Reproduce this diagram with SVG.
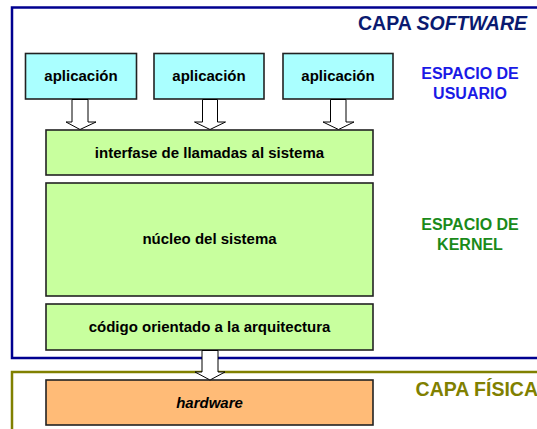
<svg xmlns="http://www.w3.org/2000/svg" width="537" height="429" viewBox="0 0 537 429">
<style>
text{font-family:"Liberation Sans",Arial,sans-serif;font-weight:bold;text-anchor:middle}
.t{font-size:15px;fill:#000}
.app{fill:#AAFFFF;stroke:#222;stroke-width:1.6}
.k{fill:#C8FF9E;stroke:#222;stroke-width:1.6}
.hw{fill:#FFBB77;stroke:#222;stroke-width:1.6}
.arr{fill:#fff;stroke:#000;stroke-width:1}
.lab{font-size:16px}
.cap{font-size:19.5px;text-anchor:end}
</style>
<g id="frames">
<rect x="12" y="7.5" width="540" height="350.5" fill="#fff" stroke="#000090" stroke-width="2.5"/>
<rect x="12" y="372" width="540" height="70" fill="#fff" stroke="#808000" stroke-width="2.5"/>
</g>
<g id="labels">
<text class="cap" x="527" y="30" fill="#0A1A70">CAPA <tspan font-style="italic">SOFTWARE</tspan></text>
<text class="lab" x="470" y="79" fill="#1A1AE6">ESPACIO DE</text>
<text class="lab" x="470" y="99" fill="#1A1AE6">USUARIO</text>
<text class="lab" x="470" y="230" fill="#1A8A1A">ESPACIO DE</text>
<text class="lab" x="470" y="250" fill="#1A8A1A">KERNEL</text>
<text class="cap" x="538" y="396" fill="#808000">CAPA FÍSICA</text>
</g>
<g id="app1"><rect class="app" x="25.5" y="53.5" width="111" height="45.5"/><text class="t" x="81" y="81">aplicación</text></g>
<g id="app2"><rect class="app" x="154" y="53.5" width="110" height="45.5"/><text class="t" x="209" y="81">aplicación</text></g>
<g id="app3"><rect class="app" x="283" y="53.5" width="110" height="45.5"/><text class="t" x="338" y="81">aplicación</text></g>
<g id="syscall"><rect class="k" x="46" y="130" width="327" height="45"/><text class="t" x="209.5" y="158">interfase de llamadas al sistema</text></g>
<g id="kernel"><rect class="k" x="46" y="183" width="327" height="113"/><text class="t" x="209.5" y="244">núcleo del sistema</text></g>
<g id="arch"><rect class="k" x="46" y="304" width="327" height="46"/><text class="t" x="209.5" y="332">código orientado a la arquitectura</text></g>
<g id="hardware"><rect class="hw" x="46" y="380" width="327" height="45"/><text class="t" x="209.5" y="408" font-style="italic">hardware</text></g>
<g id="connectors">
<path class="arr" d="M72,99.5 V122 H66 L80,129.5 L96,122 H88 V99.5 Z"/>
<path class="arr" d="M202.5,99.5 V122 H194.5 L210,129.5 L225.5,122 H217.5 V99.5 Z"/>
<path class="arr" d="M330.5,99.5 V122 H323 L338.5,129.5 L354,122 H346 V99.5 Z"/>
<path class="arr" d="M202,350.5 V372 H195 L210,380 L225,372 H218 V350.5 Z"/>
</g>
</svg>
